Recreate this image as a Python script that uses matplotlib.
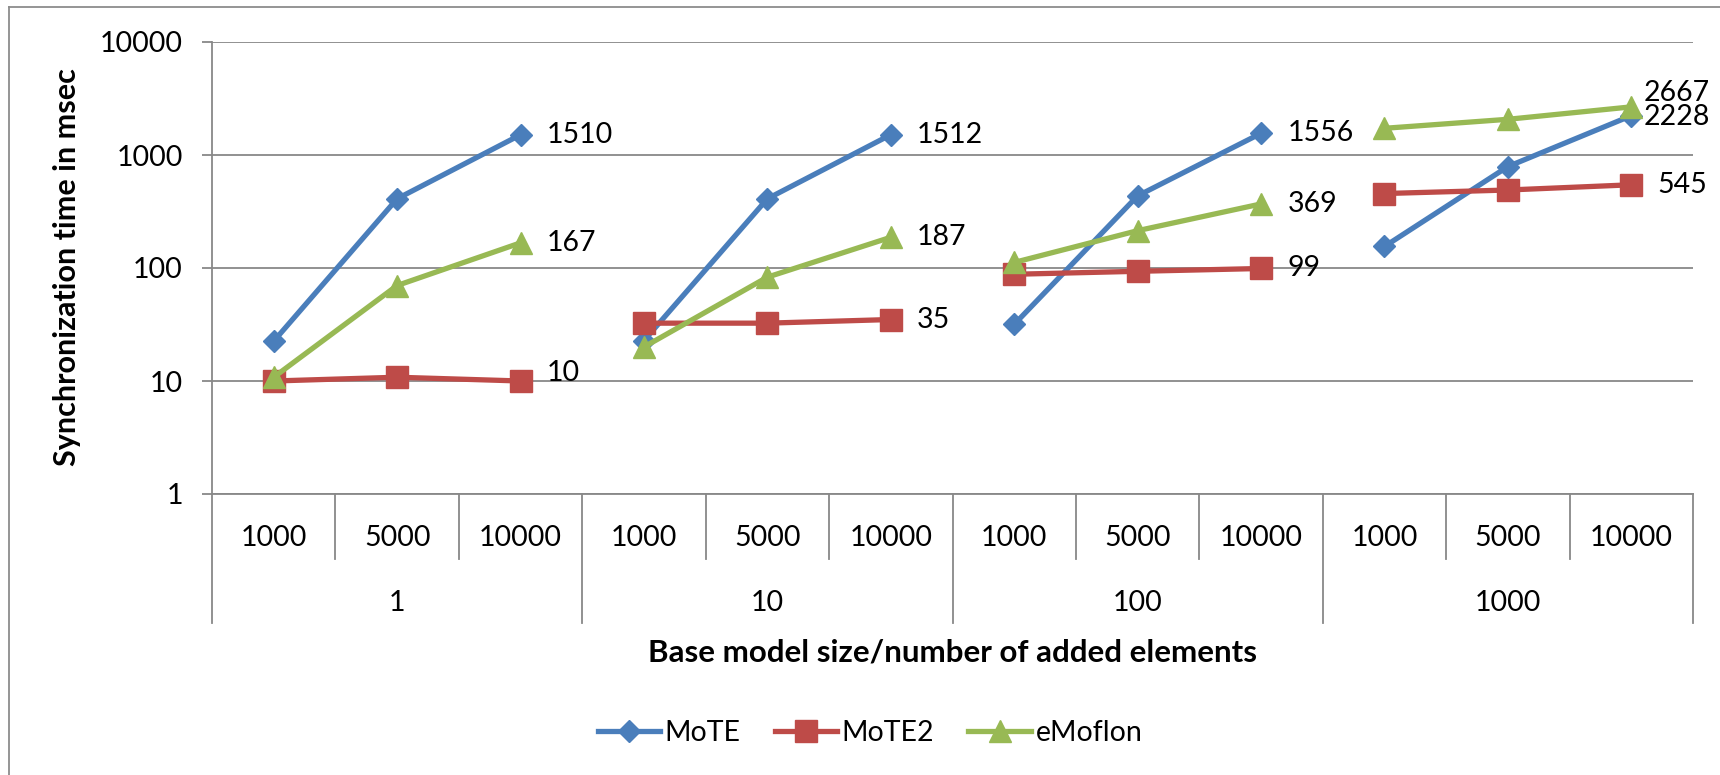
import matplotlib.pyplot as plt
from matplotlib.lines import Line2D
from matplotlib.transforms import blended_transform_factory

plt.rcParams['font.family'] = ['Lato', 'DejaVu Sans']

# data
groups = ['1', '10', '100', '1000']
sizes = ['1000', '5000', '10000']
mote = [[22.5, 410, 1510], [22.8, 410, 1512], [31.7, 435, 1556], [155, 790, 2228]]
mote2 = [[10, 10.8, 10], [32.5, 32.5, 35], [88, 93.5, 99], [456, 490, 545]]
emoflon = [[10.8, 70, 167], [20, 83, 187], [112, 214, 369], [1723, 2070, 2667]]

series = [
    ('MoTE', mote, '#4A7EBB', 'D', 11.5),
    ('MoTE2', mote2, '#BE4B48', 's', 15.5),
    ('eMoflon', emoflon, '#98B954', '^', 16),
]

grid_c = '#888888'

fig = plt.figure(figsize=(17.2, 7.75), dpi=100)
ax = fig.add_axes([212 / 1720, 1 - 494 / 775, 1481 / 1720, 452 / 775])

# label offsets (points) for the last value of each group, per series
label_off = {
    'MoTE': [(19, 0), (19, 0), (19, 0), (9, -1)],
    'MoTE2': [(19, 6), (19, 0), (19, 0), (19, 0)],
    'eMoflon': [(19, 0), (19, 0), (19, 0), (9, 10)],
}

for name, vals, color, marker, ms in series:
    for g, gv in enumerate(vals):
        xs = [g * 3 + i for i in range(3)]
        ax.plot(xs, gv, color=color, lw=3.8, marker=marker, ms=ms,
                markeredgecolor=color, solid_capstyle='round', zorder=3)
        dx, dy = label_off[name][g]
        ax.annotate(f'{gv[-1]:g}', (xs[-1], gv[-1]), xytext=(dx, dy),
                    textcoords='offset points', ha='left', va='center',
                    fontsize=20.5, color='black', zorder=4)

ax.set_yscale('log')
ax.set_ylim(1, 10000)
ax.set_xlim(-0.5, 11.5)
ax.set_yticks([1, 10, 100, 1000, 10000])
ax.set_yticklabels(['1', '10', '100', '1000', '10000'])
ax.minorticks_off()
ax.yaxis.grid(True, color=grid_c, lw=1.3)
ax.set_axisbelow(True)
ax.tick_params(axis='y', length=7, width=1.3, color=grid_c, pad=14, labelsize=20.5)
ax.set_xticks([])
for s in ['top', 'right']:
    ax.spines[s].set_visible(False)
for s in ['left', 'bottom']:
    ax.spines[s].set_color(grid_c)
    ax.spines[s].set_linewidth(1.3)

trans = blended_transform_factory(ax.transData, ax.transAxes)
n = len(groups) * len(sizes)
for k in range(n + 1):
    bottom = -0.285 if k % 3 == 0 else -0.144
    ax.plot([k - 0.5, k - 0.5], [0, bottom], transform=trans, color=grid_c,
            lw=1.3, clip_on=False)
for k in range(n):
    ax.text(k, -0.097, sizes[k % 3], transform=trans, ha='center', va='center',
            fontsize=20.5)
for g, name in enumerate(groups):
    ax.text(g * 3 + 1, -0.241, name, transform=trans, ha='center', va='center',
            fontsize=20.5)

ax.text(0.5, -0.35, 'Base model size/number of added elements', transform=ax.transAxes,
        ha='center', va='center', fontsize=22.5, fontweight='bold')
fig.text(67 / 1720, 1 - 267 / 775, 'Synchronization time in msec', rotation=90,
         ha='center', va='center', fontsize=22, fontweight='bold')

handles = [Line2D([], [], color=c, lw=3.8, marker=m, ms=ms, markeredgecolor=c)
           for _, _, c, m, ms in series]
fig.legend(handles, [s[0] for s in series], loc='center', ncol=3, frameon=False,
           bbox_to_anchor=(870 / 1720, 1 - 733 / 775), fontsize=20.5,
           handlelength=2.2, handletextpad=0.15, columnspacing=1.2)

# outer chart frame
fig.add_artist(Line2D([9 / 1720, 1], [1 - 7 / 775, 1 - 7 / 775], color='#8c8c8c', lw=1.3))
fig.add_artist(Line2D([9 / 1720, 9 / 1720], [0, 1 - 7 / 775], color='#8c8c8c', lw=1.3))

fig.savefig('out.png', dpi=100)
